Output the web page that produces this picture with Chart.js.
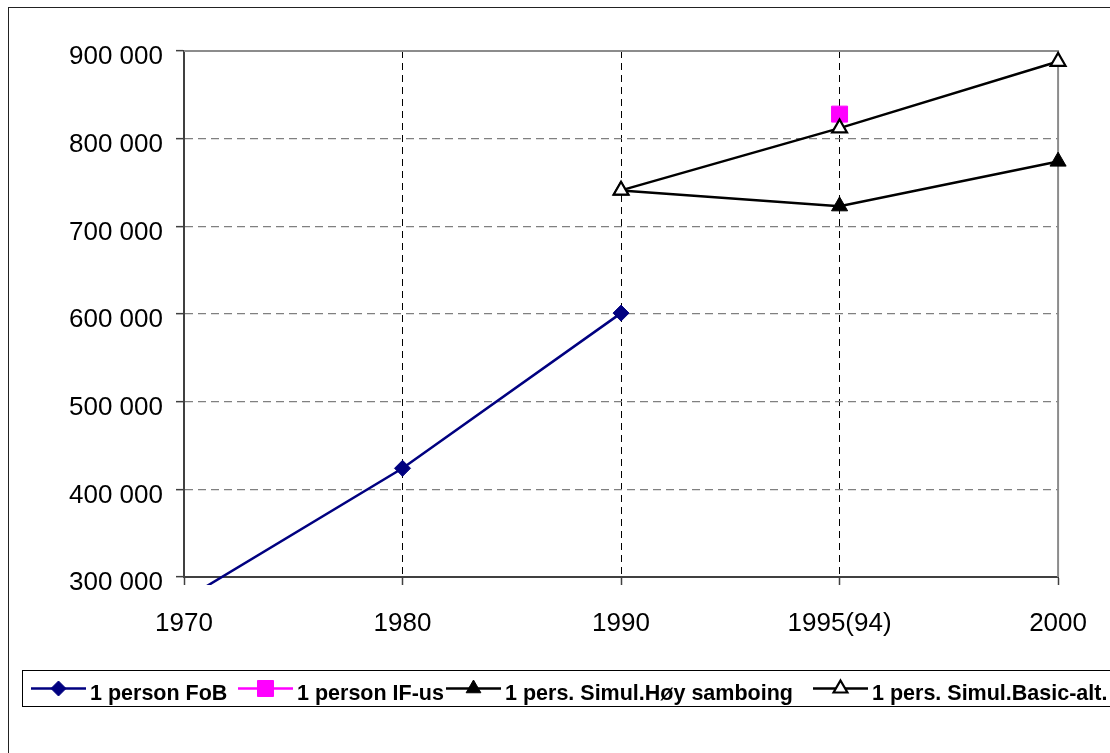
<!DOCTYPE html>
<html>
<head>
<meta charset="utf-8">
<script src="https://cdn.jsdelivr.net/npm/chart.js@4.4.0/dist/chart.umd.min.js"></script>
<style>
html, body { margin: 0; padding: 0; background: #fff; }
#wrap { width: 1110px; height: 753px; position: relative; }
</style>
</head>
<body>
<div id="wrap"><canvas id="grafica"></canvas></div>
<script>
const aar = ['1970', '1980', '1990', '1995(94)', '2000'];
const fob = [274000, 424000, 601000, null, null];
const ifUs = [null, null, null, 828000, null];
const hoySamboing = [null, null, 741000, 723000, 774000];
const basicAlt = [null, null, 741000, 812000, 888000];
const yTicks = [300000, 400000, 500000, 600000, 700000, 800000, 900000];
const navn = ['1 person FoB', '1 person IF-us', '1 pers. Simul.Høy samboing', '1 pers. Simul.Basic-alt.'];

const fontFam = '"Liberation Sans", Arial, sans-serif';

function tusen(v) {
    return String(v).replace(/\B(?=(\d{3})+(?!\d))/g, ' ');
}

// ramme rundt hele bildet + rammen rundt plottet (topp og hoyre)
const ramme = {
    id: 'ramme',
    beforeDatasetsDraw(chart) {
        const ctx = chart.ctx;
        const a = chart.chartArea;
        ctx.save();
        ctx.strokeStyle = '#8c8c8c';
        ctx.lineWidth = 2;
        ctx.beginPath();
        ctx.moveTo(a.left, a.top);
        ctx.lineTo(a.right, a.top);
        ctx.lineTo(a.right, a.bottom);
        ctx.stroke();
        ctx.restore();
    },
    afterDraw(chart) {
        const ctx = chart.ctx;
        ctx.save();
        ctx.strokeStyle = '#222';
        ctx.lineWidth = 1;
        ctx.strokeRect(8.5, 7.5, 1300, 900);
        ctx.restore();
    }
};

// legende med linje + markor, i boks
const legende = {
    id: 'legende',
    afterDraw(chart) {
        const ctx = chart.ctx;
        const startX = [31, 238, 446, 813];
        const y = 688.5;
        ctx.save();
        ctx.strokeStyle = '#000';
        ctx.lineWidth = 1;
        ctx.strokeRect(22.5, 670.5, 1200, 36);
        chart.data.datasets.forEach(function (ds, i) {
            const x = startX[i];
            ctx.strokeStyle = ds.borderColor;
            ctx.lineWidth = 2.5;
            ctx.beginPath();
            ctx.moveTo(x, y);
            ctx.lineTo(x + 55, y);
            ctx.stroke();
            ctx.fillStyle = ds.pointBackgroundColor;
            ctx.strokeStyle = ds.pointBorderColor;
            ctx.lineWidth = ds.pointBorderWidth;
            Chart.helpers.drawPoint(ctx, {
                pointStyle: ds.pointStyle,
                radius: ds.legendRadius,
                rotation: 0,
                borderWidth: ds.pointBorderWidth
            }, x + 27.5, y);
            ctx.fillStyle = '#000';
            ctx.font = 'bold 21.5px ' + fontFam;
            ctx.textBaseline = 'alphabetic';
            ctx.textAlign = 'left';
            ctx.fillText(navn[i], x + 59, 700);
        });
        ctx.restore();
    }
};

let grafica = new Chart(document.getElementById('grafica'), {
    type: 'line',
    data: {
        labels: aar,
        datasets: [{
            label: navn[0],
            data: fob,
            borderColor: '#000080',
            borderWidth: 2.5,
            pointStyle: 'rectRot',
            pointRadius: 8,
            legendRadius: 7.5,
            pointBackgroundColor: '#000080',
            pointBorderColor: '#000080',
            pointBorderWidth: 1,
            clip: {left: 0, top: 0, right: 0, bottom: 8},
            order: 3
        }, {
            label: navn[1],
            data: ifUs,
            borderColor: '#ff00ff',
            borderWidth: 2.5,
            pointStyle: 'rect',
            pointRadius: 11.3,
            legendRadius: 11.3,
            pointBackgroundColor: '#ff00ff',
            pointBorderColor: '#ff00ff',
            pointBorderWidth: 1,
            order: 2
        }, {
            label: navn[2],
            data: hoySamboing,
            borderColor: '#000',
            borderWidth: 2.5,
            pointStyle: 'triangle',
            pointRadius: 9.3,
            legendRadius: 8.5,
            pointBackgroundColor: '#000',
            pointBorderColor: '#000',
            pointBorderWidth: 1,
            order: 1
        }, {
            label: navn[3],
            data: basicAlt,
            borderColor: '#000',
            borderWidth: 2.5,
            pointStyle: 'triangle',
            pointRadius: 8.6,
            legendRadius: 8,
            pointBackgroundColor: '#fff',
            pointBorderColor: '#000',
            pointBorderWidth: 2.2,
            order: 0
        }]
    },
    options: {
        responsive: true,
        maintainAspectRatio: false,
        animation: false,
        events: [],
        layout: {
            padding: {left: 0, top: 51, right: 50, bottom: 116}
        },
        plugins: {
            legend: {display: false},
            tooltip: {enabled: false}
        },
        scales: {
            x: {
                type: 'category',
                offset: false,
                afterFit(s) { s.height = 60; },
                grid: {
                    color: c => (c.index === 0 || c.index === aar.length - 1) ? 'rgba(0,0,0,0)' : '#000',
                    lineWidth: 1,
                    tickColor: '#404040',
                    tickLength: 8,
                    tickWidth: 1.5
                },
                border: {display: true, color: '#404040', width: 2, dash: [7, 5]},
                ticks: {
                    color: '#000',
                    font: {family: fontFam, size: 26},
                    padding: 23,
                    maxRotation: 0,
                    autoSkip: false
                }
            },
            y: {
                min: 300000,
                max: 900000,
                afterFit(s) { s.width = 184; },
                afterBuildTicks(s) { s.ticks = yTicks.map(v => ({value: v})); },
                grid: {
                    color: c => (c.tick.value === yTicks[0] || c.tick.value === yTicks[yTicks.length - 1]) ? 'rgba(0,0,0,0)' : '#808080',
                    lineWidth: 1.3,
                    tickColor: '#404040',
                    tickLength: 8,
                    tickWidth: 1.5
                },
                border: {display: true, color: '#404040', width: 2, dash: [8, 5]},
                ticks: {
                    color: '#000',
                    font: {family: fontFam, size: 26},
                    padding: 13,
                    labelOffset: 6,
                    callback: v => tusen(v)
                }
            }
        }
    },
    plugins: [ramme, legende]
});
</script>
</body>
</html>
